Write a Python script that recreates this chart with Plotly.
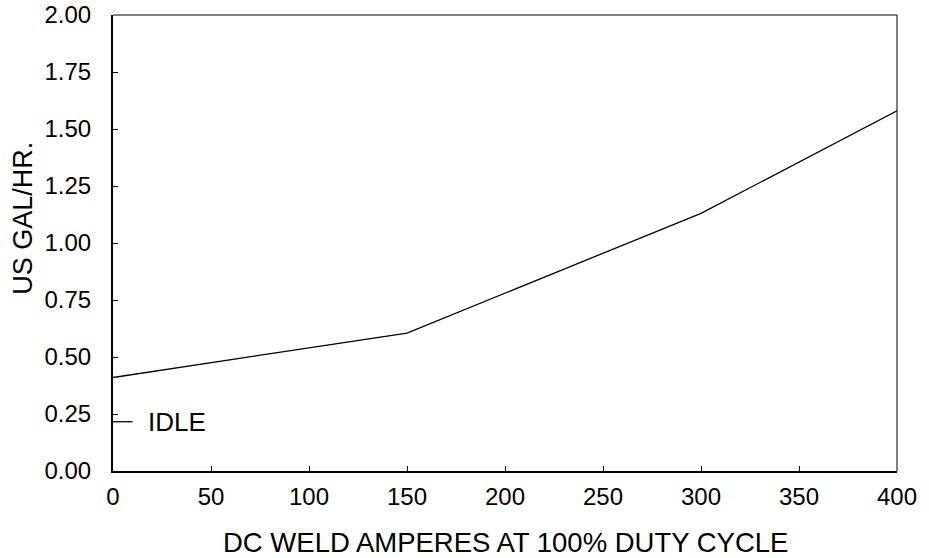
import plotly.graph_objects as go

amps = [0, 150, 300, 400]
gal_hr = [0.41, 0.605, 1.13, 1.58]
idle_amps = [0, 10]
idle_gal = [0.216, 0.216]
x_ticks = [0, 50, 100, 150, 200, 250, 300, 350, 400]
y_ticks = [0.0, 0.25, 0.5, 0.75, 1.0, 1.25, 1.5, 1.75, 2.0]
y_tick_labels = ["0.00", "0.25", "0.50", "0.75", "1.00", "1.25", "1.50", "1.75", "2.00"]

FONT = "Liberation Sans, Arial, Helvetica, sans-serif"

fig = go.Figure()
fig.add_trace(go.Scatter(x=amps, y=gal_hr, mode="lines",
                         line=dict(color="black", width=1.3), showlegend=False))
fig.add_trace(go.Scatter(x=idle_amps, y=idle_gal, mode="lines",
                         line=dict(color="black", width=1.3), showlegend=False))

fig.add_annotation(x=17, y=idle_gal[0], text="IDLE", showarrow=False,
                   xanchor="left", yanchor="middle",
                   font=dict(family=FONT, size=26, color="black"))
fig.add_annotation(x=0.5, y=-0.156, xref="paper", yref="paper",
                   text="DC WELD AMPERES AT 100% DUTY CYCLE", showarrow=False,
                   xanchor="center", yanchor="middle",
                   font=dict(family=FONT, size=27.5, color="black"))
fig.add_annotation(x=-0.115, y=0.555, xref="paper", yref="paper",
                   text="US GAL/HR.", showarrow=False, textangle=-90,
                   xanchor="center", yanchor="middle",
                   font=dict(family=FONT, size=27, color="black"))

# thin top/right frame lines
fig.add_shape(type="line", xref="paper", yref="paper", x0=0, x1=1, y0=1, y1=1,
              line=dict(color="black", width=1))
fig.add_shape(type="line", xref="paper", yref="paper", x0=1, x1=1, y0=0, y1=1,
              line=dict(color="black", width=1))

fig.update_layout(
    width=929, height=558,
    margin=dict(l=113, r=32, t=15, b=87, autoexpand=False),
    paper_bgcolor="white", plot_bgcolor="white",
    font=dict(family=FONT, size=24, color="black"),
    xaxis=dict(range=[0, 400], tickvals=x_ticks, ticks="inside", ticklen=5,
               tickwidth=1, tickcolor="black", showline=True, linecolor="black",
               linewidth=2, showgrid=False, zeroline=False, automargin=False,
               ticklabelstandoff=3, ticklabeloverflow="allow",
               tickfont=dict(size=24)),
    yaxis=dict(range=[0, 2.0], tickvals=y_ticks, ticktext=y_tick_labels,
               ticks="inside", ticklen=5, tickwidth=1, tickcolor="black",
               showline=True, linecolor="black", linewidth=2, showgrid=False,
               zeroline=False, automargin=False, ticklabeloverflow="allow",
               ticklabelstandoff=15, tickfont=dict(size=24)),
)

fig.write_html(
    "out.html",
    config={"displayModeBar": False},
    post_script="document.body.style.margin='0';document.body.style.overflow='hidden';",
)
